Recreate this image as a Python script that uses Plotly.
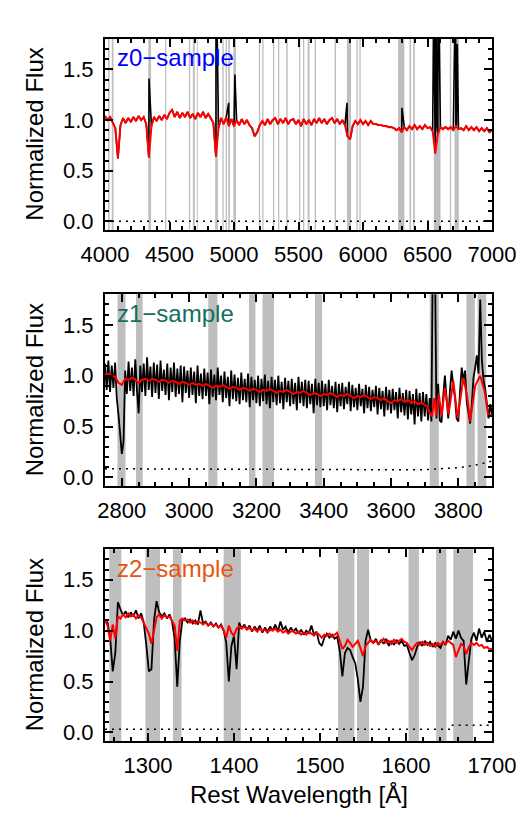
import plotly.graph_objects as go

# ---------------- DATA ----------------
# Panel z0 : 4000-7000 A, 20 A sampling
z0_wave = list(range(4000, 7001, 20))
z0_red = [
    1.04, 1.00, 1.03, 0.97, 0.92, 0.62, 0.95, 1.02, 0.97, 1.02,
    0.98, 1.03, 0.99, 1.04, 1.00, 1.03, 0.96, 0.63, 0.94, 1.03,
    0.99, 1.04, 1.00, 1.05, 1.01, 1.07, 1.10, 1.03, 1.08, 1.02,
    1.07, 1.03, 1.08, 1.02, 1.06, 1.01, 1.07, 1.03, 1.08, 1.02,
    1.06, 1.02, 0.97, 0.64, 0.92, 1.02, 0.96, 1.03, 0.94, 1.01,
    0.94, 1.00, 0.95, 1.01, 0.96, 1.00, 0.95, 0.92, 0.84, 0.88,
    0.95, 0.99, 0.95, 1.01, 0.96, 1.00, 1.02, 0.96, 1.01, 0.97,
    1.02, 0.96, 1.00, 1.01, 0.96, 1.00, 0.94, 1.01, 0.96, 1.00,
    0.95, 1.01, 0.97, 1.02, 0.97, 1.01, 0.96, 1.00, 1.02, 0.97,
    1.01, 0.96, 1.00, 0.95, 0.84, 0.81, 0.94, 0.99, 0.96, 1.00,
    0.96, 0.99, 0.95, 0.99, 0.96, 0.96, 0.95, 0.95, 0.94, 0.94,
    0.93, 0.93, 0.92, 0.90, 0.92, 0.88, 0.93, 0.90, 0.94, 0.91,
    0.95, 0.91, 0.94, 0.91, 0.95, 0.92, 0.93, 0.89, 0.67, 0.86,
    0.93, 0.91, 0.93, 0.91, 0.93, 0.90, 0.94, 0.91, 0.92, 0.90,
    0.94, 0.90, 0.93, 0.90, 0.93, 0.89, 0.92, 0.89, 0.92, 0.88,
    0.90,
]
# emission lines seen in the observed (black) z0 spectrum
z0_em_wave = [4341, 4861, 4959, 5007, 5876, 6302, 6548, 6554, 6563, 6572, 6583, 6717, 6724, 6731]
z0_em_flux = [1.41, 2.60, 1.17, 1.45, 1.17, 1.12, 2.20, 0.95, 3.00, 0.95, 2.60, 2.40, 0.95, 1.75]
z0_err_wave = [4000, 7000]
z0_err = [0.0, 0.0]
z0_band_lo = [4024, 4052, 4336, 4466, 4650, 4681, 4712, 4854, 4910, 4935, 4955, 4995, 5193, 5219,
              5302, 5341, 5405, 5504, 5535, 5571, 5625, 5780, 5876, 5949, 5972, 6272, 6360, 6389,
              6549, 6673, 6709]
z0_band_hi = [4036, 4066, 4357, 4476, 4660, 4696, 4719, 4875, 4920, 4945, 4968, 5015, 5203, 5229,
              5312, 5351, 5416, 5514, 5545, 5586, 5636, 5791, 5907, 5959, 5982, 6321, 6373, 6402,
              6601, 6684, 6743]

# Panel z1 : 2750-3900 A
z1_black_wave = list(range(2750, 3901, 5))
z1_black = [
    1.12, 0.86, 1.15, 0.84, 1.10, 0.88, 1.13, 0.78, 0.62, 0.44,
    0.23, 0.35, 1.05, 0.82, 1.14, 0.85, 1.08, 0.80, 1.16, 0.86,
    0.63, 1.10, 0.84, 1.12, 0.80, 1.18, 0.86, 1.09, 0.79, 1.13,
    0.83, 1.11, 0.77, 1.15, 0.85, 1.06, 0.81, 1.12, 0.76, 1.08,
    0.84, 1.13, 0.79, 1.07, 0.82, 1.10, 0.74, 1.09, 0.83, 1.05,
    0.78, 1.08, 0.81, 1.04, 0.73, 1.10, 0.80, 1.02, 0.77, 1.07,
    0.80, 1.03, 0.72, 1.06, 0.79, 1.01, 0.76, 1.08, 0.81, 1.00,
    0.74, 1.04, 0.78, 0.99, 0.70, 1.05, 0.77, 1.01, 0.75, 0.98,
    0.72, 1.03, 0.76, 0.97, 0.74, 1.02, 0.69, 0.99, 0.76, 0.96,
    0.73, 1.00, 0.70, 0.97, 0.75, 1.01, 0.72, 0.95, 0.68, 0.99,
    0.74, 0.96, 0.71, 1.00, 0.73, 0.94, 0.67, 0.98, 0.74, 0.95,
    0.70, 0.97, 0.72, 0.93, 0.66, 0.99, 0.73, 0.94, 0.70, 0.96,
    0.68, 0.95, 0.72, 0.92, 0.63, 0.97, 0.71, 0.93, 0.69, 0.95,
    0.70, 0.92, 0.66, 0.96, 0.71, 0.90, 0.68, 0.94, 0.64, 0.92,
    0.70, 0.93, 0.67, 0.89, 0.72, 0.94, 0.65, 0.91, 0.69, 0.88,
    0.66, 0.92, 0.70, 0.87, 0.63, 0.91, 0.68, 0.89, 0.65, 0.86,
    0.69, 0.90, 0.62, 0.88, 0.67, 0.85, 0.60, 0.89, 0.66, 0.86,
    0.63, 0.87, 0.66, 0.84, 0.58, 0.88, 0.64, 0.83, 0.61, 0.86,
    0.57, 0.85, 0.62, 0.82, 0.52, 0.87, 0.60, 0.83, 0.55, 0.84,
    0.60, 0.82, 0.56, 0.78, 0.55, 2.60, 2.30, 0.58, 0.92, 0.56,
    0.54, 0.80, 1.00, 0.78, 0.58, 0.85, 1.05, 0.90, 0.78, 0.58,
    0.55, 0.85, 1.08, 0.95, 1.05, 0.74, 0.62, 0.53, 0.72, 0.98,
    1.08, 1.20, 1.02, 1.75, 1.15, 0.95, 0.86, 0.68, 0.58, 0.72, 0.62,
]
z1_red_wave = list(range(2750, 3700, 10)) + [3700, 3708, 3714, 3722, 3728, 3734, 3742, 3750, 3760, 3771,
                                             3785, 3798, 3815, 3826, 3835, 3850, 3865, 3878, 3889, 3900]
z1_red = [
    1.01, 1.02, 1.00, 0.99, 0.93, 0.91, 0.97, 0.96, 0.98, 0.96,
    0.93, 0.96, 0.97, 0.95, 0.97, 0.96, 0.94, 0.96, 0.95, 0.93,
    0.95, 0.94, 0.92, 0.94, 0.93, 0.91, 0.93, 0.91, 0.92, 0.90,
    0.92, 0.90, 0.88, 0.90, 0.89, 0.91, 0.89, 0.87, 0.89, 0.88,
    0.86, 0.88, 0.87, 0.85, 0.87, 0.86, 0.84, 0.86, 0.85, 0.87,
    0.85, 0.83, 0.85, 0.84, 0.86, 0.84, 0.82, 0.84, 0.83, 0.85,
    0.83, 0.81, 0.83, 0.82, 0.80, 0.82, 0.81, 0.83, 0.81, 0.79,
    0.81, 0.80, 0.82, 0.80, 0.78, 0.80, 0.79, 0.81, 0.79, 0.77,
    0.79, 0.78, 0.76, 0.78, 0.75, 0.73, 0.76, 0.75, 0.77, 0.74,
    0.76, 0.73, 0.75, 0.72, 0.74,
    0.71, 0.70, 0.64, 0.60, 0.78, 0.61, 0.82, 0.60, 0.88, 0.62,
    0.95, 0.58, 0.98, 0.80, 0.55, 0.90, 1.00, 0.85, 0.60, 0.62,
]
z1_err_wave = [2750, 3000, 3300, 3600, 3700, 3750, 3800, 3850, 3900]
z1_err = [0.085, 0.080, 0.078, 0.075, 0.076, 0.082, 0.095, 0.120, 0.160]
z1_band_lo = [2787, 2842, 3057, 3178, 3218, 3374, 3715, 3824, 3857]
z1_band_hi = [2811, 2862, 3084, 3197, 3252, 3395, 3742, 3849, 3883]

# Panel z2 : 1250-1700 A, 3 A sampling
z2_wave = list(range(1250, 1701, 3))
z2_black = [
    1.10, 1.08, 0.93, 0.60, 0.78, 1.28, 1.21, 1.15, 1.19, 1.13,
    1.18, 1.14, 1.20, 1.12, 1.17, 1.08, 0.86, 0.60, 0.62, 1.10,
    1.29, 1.18, 1.14, 1.17, 1.12, 1.16, 1.09, 0.92, 0.45, 0.90,
    1.10, 1.12, 1.08, 1.11, 1.07, 1.10, 1.06, 1.20, 1.07, 1.09,
    1.05, 1.08, 1.04, 1.07, 1.03, 1.06, 1.00, 0.88, 0.50, 0.85,
    0.95, 0.62, 1.08, 1.02, 1.06, 1.01, 1.05, 0.99, 1.04, 1.00,
    1.05, 0.98, 1.03, 0.99, 1.04, 1.00, 1.06, 0.99, 1.09, 1.01,
    1.04, 0.98, 1.03, 0.99, 1.02, 0.97, 1.01, 0.96, 1.00, 0.97,
    1.05, 0.96, 0.99, 0.88, 0.85, 0.93, 0.97, 0.93, 0.96, 0.92,
    0.94, 0.80, 0.55, 0.78, 0.83, 0.81, 0.74, 0.68, 0.52, 0.30,
    0.45, 0.90, 1.01, 0.90, 0.88, 0.92, 0.86, 0.91, 0.87, 0.92,
    0.85, 0.90, 0.86, 0.91, 0.87, 0.90, 0.85, 0.86, 0.78, 0.71,
    0.76, 0.84, 0.89, 0.85, 0.90, 0.86, 0.89, 0.84, 0.88, 0.85,
    0.83, 0.89, 0.86, 0.95, 0.91, 0.99, 0.92, 1.00, 0.93, 0.90,
    0.47, 0.70, 0.92, 0.98, 0.90, 1.02, 0.93, 0.99, 0.89, 0.96,
    0.90,
]
z2_red = [
    1.10, 1.05, 0.90, 1.06, 0.92, 1.14, 1.12, 1.16, 1.13, 1.17,
    1.14, 1.16, 1.12, 1.15, 1.13, 1.08, 1.03, 0.97, 0.87, 1.02,
    1.13, 1.16, 1.12, 1.15, 1.13, 1.14, 1.10, 1.05, 0.80, 1.10,
    1.12, 1.10, 1.11, 1.08, 1.10, 1.07, 1.09, 1.08, 1.06, 1.08,
    1.05, 1.07, 1.05, 1.06, 1.03, 1.05, 1.00, 0.93, 1.05, 0.98,
    0.95, 1.02, 1.04, 1.02, 1.04, 1.01, 1.03, 1.00, 1.02, 0.99,
    1.02, 1.00, 1.01, 0.98, 1.01, 1.00, 1.02, 0.99, 1.01, 0.98,
    1.00, 0.97, 0.99, 1.00, 0.97, 0.99, 0.96, 0.98, 0.96, 0.99,
    0.97, 0.95, 0.98, 0.96, 0.93, 0.96, 0.95, 0.97, 0.94, 0.96,
    0.98, 0.90, 0.82, 0.85, 0.91, 0.88, 0.84, 0.87, 0.90, 0.83,
    0.75, 0.85, 0.88, 0.91, 0.88, 0.90, 0.87, 0.89, 0.92, 0.88,
    0.90, 0.87, 0.91, 0.88, 0.90, 0.92, 0.89, 0.88, 0.84, 0.81,
    0.85, 0.88, 0.86, 0.89, 0.86, 0.88, 0.85, 0.87, 0.84, 0.88,
    0.86, 0.89, 0.87, 0.90, 0.88, 0.86, 0.74, 0.80, 0.87, 0.85,
    0.77, 0.84, 0.88, 0.86, 0.88, 0.85, 0.86, 0.83, 0.84, 0.82,
    0.82,
]
z2_err_wave = [1250, 1652, 1653, 1700]
z2_err = [0.03, 0.03, 0.07, 0.07]
z2_band_lo = [1255, 1297, 1329, 1388, 1521, 1543, 1603, 1635, 1655]
z2_band_hi = [1269, 1314, 1339, 1408, 1540, 1557, 1615, 1647, 1678]

panel_labels = ["z0\u2212sample", "z1\u2212sample", "z2\u2212sample"]
panel_colors = ["#0000ff", "#11705f", "#e6550d"]

# ---------------- FIGURE ----------------
FONT = "Liberation Sans, Arial, Helvetica, sans-serif"
BAND = "#bebebe"

# black z0 = red continuum + emission lines
pairs = sorted(list(zip(z0_wave, z0_red)) + list(zip(z0_em_wave, z0_em_flux)))
z0_black_wave = [p[0] for p in pairs]
z0_black = [p[1] for p in pairs]

panels = [
    dict(bw=z0_black_wave, b=z0_black, rw=z0_wave, r=z0_red, ew=z0_err_wave, e=z0_err,
         lo=z0_band_lo, hi=z0_band_hi, bwid=1.6),
    dict(bw=z1_black_wave, b=z1_black, rw=z1_red_wave, r=z1_red, ew=z1_err_wave, e=z1_err,
         lo=z1_band_lo, hi=z1_band_hi, bwid=1.8),
    dict(bw=z2_wave, b=z2_black, rw=z2_wave, r=z2_red, ew=z2_err_wave, e=z2_err,
         lo=z2_band_lo, hi=z2_band_hi, bwid=1.8),
]

fig = go.Figure()
shapes = []
for i, p in enumerate(panels):
    sx = "" if i == 0 else str(i + 1)
    xa, ya = "x" + sx, "y" + sx
    for lo, hi in zip(p["lo"], p["hi"]):
        shapes.append(dict(type="rect", xref=xa, yref=ya + " domain", x0=lo, x1=hi, y0=0, y1=1,
                           fillcolor=BAND, line=dict(width=0), layer="below"))
    fig.add_trace(go.Scatter(x=p["ew"], y=p["e"], mode="lines", xaxis=xa, yaxis=ya,
                             line=dict(color="black", width=1.5, dash="2px,5px"),
                             showlegend=False, hoverinfo="skip"))
    fig.add_trace(go.Scatter(x=p["bw"], y=p["b"], mode="lines", xaxis=xa, yaxis=ya,
                             line=dict(color="black", width=p["bwid"]), showlegend=False))
    fig.add_trace(go.Scatter(x=p["rw"], y=p["r"], mode="lines", xaxis=xa, yaxis=ya,
                             line=dict(color="#ff0000", width=2), showlegend=False))

tickfont = dict(family=FONT, size=22, color="black")
common_x = dict(showline=True, linecolor="black", linewidth=2, mirror="ticks", ticks="inside",
                ticklen=8, tickwidth=1.5, tickcolor="black", showgrid=False, zeroline=False,
                tickfont=tickfont, ticklabelstandoff=4)
common_y = dict(showline=True, linecolor="black", linewidth=2, mirror="ticks", ticks="inside",
                ticklen=8, tickwidth=1.5, tickcolor="black", showgrid=False, zeroline=False,
                tickfont=tickfont, range=[-0.085, 1.8], tick0=0, dtick=0.5, tickformat=".1f",
                ticklabelstandoff=5,
                minor=dict(ticks="inside", ticklen=4, tickwidth=1.5, tickcolor="black",
                           dtick=0.1, tick0=0, showgrid=False))

domains = [[0.728, 1.0], [0.3632, 0.6363], [0.0, 0.2731]]
xcfg = [
    dict(range=[4000, 7000], tick0=4000, dtick=500, minor_dtick=100),
    dict(range=[2750, 3900], tick0=2800, dtick=200, minor_dtick=50),
    dict(range=[1250, 1700], tick0=1300, dtick=100, minor_dtick=20),
]

layout = dict(
    width=532, height=825,
    margin=dict(l=105, r=40, t=39, b=84),
    paper_bgcolor="white", plot_bgcolor="white",
    font=dict(family=FONT, color="black"),
    shapes=shapes,
)
annotations = []
for i in range(3):
    sx = "" if i == 0 else str(i + 1)
    c = xcfg[i]
    layout["xaxis" + sx] = dict(common_x, range=c["range"], tick0=c["tick0"], dtick=c["dtick"],
                                anchor="y" + sx, domain=[0, 1],
                                minor=dict(ticks="inside", ticklen=4, tickwidth=1.5,
                                           tickcolor="black", dtick=c["minor_dtick"],
                                           tick0=c["tick0"], showgrid=False))
    layout["yaxis" + sx] = dict(common_y, anchor="x" + sx, domain=domains[i])
    annotations.append(dict(text=panel_labels[i], xref="x" + sx + " domain", yref="y" + sx + " domain",
                            x=0.027, y=0.902, xanchor="left", yanchor="middle", showarrow=False,
                            font=dict(family=FONT, size=24, color=panel_colors[i])))
    annotations.append(dict(text="Normalized Flux", xref="paper", yref="paper",
                            x=-0.183, y=(domains[i][0] + domains[i][1]) / 2,
                            xanchor="center", yanchor="middle", textangle=-90, showarrow=False,
                            font=dict(family=FONT, size=24, color="black")))
annotations.append(dict(text="Rest Wavelength [Å]", xref="paper", yref="paper", x=0.5, y=-0.0755,
                        xanchor="center", yanchor="middle", showarrow=False,
                        font=dict(family=FONT, size=24, color="black")))
layout["annotations"] = annotations
fig.update_layout(**layout)

fig.write_html("out.html")
